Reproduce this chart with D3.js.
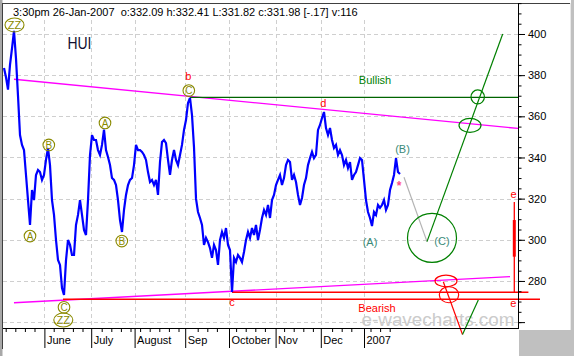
<!DOCTYPE html>
<html><head><meta charset="utf-8">
<script src="https://cdn.jsdelivr.net/npm/d3@7/dist/d3.min.js"></script>
<style>html,body{margin:0;padding:0;background:#fff;overflow:hidden}</style>
</head><body>
<svg id="c" width="574" height="356"></svg>
<script>
// ---------- data (HUI, daily bars, index 0 = mid-May 2006) ----------
const closes = [
383.5,379.0,373.0,385.0,393.0,401.5,388.0,370.0,350.9,346.1,
343.6,331.5,319.3,307.2,324.2,319.3,331.5,333.9,332.9,329.1,
331.5,338.8,344.6,336.3,319.3,312.1,299.9,290.2,287.8,276.5,
273.2,290.0,299.9,297.5,292.6,292.6,307.2,312.1,319.3,312.1,
304.8,302.3,319.3,341.2,350.9,348.5,348.5,343.6,341.2,346.1,
353.5,343.6,340.2,336.3,330.0,329.1,326.6,319.3,309.6,303.8,
314.5,321.8,326.6,329.1,330.0,336.3,346.1,343.6,343.6,342.7,
341.2,338.8,332.9,328.1,329.1,326.6,329.1,321.8,337.8,347.5,
348.5,347.0,338.8,331.5,338.8,343.6,338.8,336.3,341.2,346.1,
353.4,358.2,366.5,368.9,360.6,345.0,320.0,313.5,310.6,307.2,
297.5,300.9,298.9,296.0,291.2,297.5,295.0,287.8,299.9,303.8,
300.9,305.7,297.5,295.0,274.6,291.2,289.2,292.6,291.2,289.2,
294.1,299.9,303.8,300.9,305.7,302.3,307.2,299.9,304.8,310.6,
314.5,312.1,316.9,310.6,319.3,321.8,326.6,329.1,331.5,326.6,
330.0,336.3,338.8,337.8,329.1,331.5,328.1,321.8,316.9,320.3,
326.6,330.0,336.3,339.7,342.7,339.7,341.2,353.4,355.8,359.2,
362.1,354.3,350.9,354.3,348.5,344.6,346.1,341.2,343.6,341.2,
336.3,338.8,334.9,337.8,329.1,331.5,332.9,336.3,339.7,338.8,
329.1,319.3,313.5,310.6,306.7,313.5,312.1,316.9,315.5,316.9,
319.3,314.5,316.9,324.2,327.6,331.5,339.7,332.9,331.98
];
const monthLabels = ["June","July","August","Sep","October","Nov","Dec","2007"];
const monthBars = [20.2, 43.6, 65.3, 90.6, 112.5, 135.8, 158.4, 180];
const yTicks = [260,280,300,320,340,360,380,400];
const yLabelled = [280,300,320,340,360,380,400];
const headerText = "3:30pm 26-Jan-2007  o:332.09 h:332.41 L:331.82 c:331.98 [-.17] v:116";
const symbol = "HUI";

// trend lines and projections, as [bar, price] pairs
const upperTrend = [[5,378.0],[257,354.1]];
const lowerTrend = [[5,269.4],[253,282.1]];
const redLevels = [[29.5,268,271.1],[114,262.2,274.5]];      // from bar, to bar, price
const bullishLevel = [93,257.5,369.2];
const greyPath = [[200,330.4],[211.5,299.1]];
const greenPath = [[211.5,299.1],[249.35,400]];
const redDrop = [[219.65,279.6],[229.25,254.0]];
const greenBounce = [[229.25,254.0],[237.15,270.8]];
const eRange = [255.15, 318.4, 274.5, 309.6, 291.8];        // bar, top, bottom, thick top, thick bottom
const circledWaves = [["ZZ",5.25,404.4],["A",13,301.8],["B",22.4,346.1],["C",30,267.2],
                      ["ZZ",29.65,261.0],["A",50.5,356.8],["B",58.9,299.4],["C",92.4,372.5]];
const redLabels = [["b",92.15,379.7],["d",159.65,366.3],["c",114,269.8],["e",254.75,322.3],["e",254.65,269.3],["Bearish",186.5,266.8]];
const waveLabels = [["(A)",183,298.7],["(B)",199.25,344.1],["(C)",219,299.2]];
const greenLabels = [["Bullish",185.5,377.6]];
const bigCircle = [214,300.9];
const greenRings = [[236.85,369.4],[233,355.6]];
const redRings = [[221,280.0],[222.5,273.3]];
const lastMark = [197.5,327.5];

// ---------- drawing ----------
const FONT = "'Liberation Sans', Arial, sans-serif";
const L = 3, R = 518, T = 3, B = 328;
const svg = d3.select("#c").style("font-family", FONT);
const x = d3.scaleLinear().domain([-0.5, 257]).range([L, R]);
const y = d3.scaleLinear().domain([257.14, 415.06]).range([B, T]);

// frame
svg.append("rect").attr("width",574).attr("height",356).attr("fill","#fff");
svg.append("rect").attr("x",571).attr("y",0).attr("width",3).attr("height",330).attr("fill","#c0c0c0");
svg.append("rect").attr("x",519).attr("y",330).attr("width",55).attr("height",26).attr("fill","#c0c0c0");
svg.append("line").attr("x1",570.5).attr("x2",570.5).attr("y1",3).attr("y2",330).attr("stroke","#e8e8e8");
svg.append("rect").attr("x",0).attr("y",0).attr("width",2.5).attr("height",356).attr("fill","#a8a8a8");
svg.append("line").attr("x1",2.5).attr("x2",2.5).attr("y1",3).attr("y2",349).attr("stroke","#404040");
svg.append("line").attr("x1",2.5).attr("x2",570).attr("y1",3.5).attr("y2",3.5).attr("stroke","#404040");

// grid
const grid = svg.append("g").attr("stroke","#cfcfcf").attr("stroke-dasharray","4,3");
grid.selectAll("line.h").data(yTicks).join("line")
  .attr("x1",L).attr("x2",R).attr("y1",d=>Math.round(y(d))+0.5).attr("y2",d=>Math.round(y(d))+0.5);
grid.selectAll("line.v").data(monthBars).join("line")
  .attr("x1",d=>Math.round(x(d))+0.5).attr("x2",d=>Math.round(x(d))+0.5).attr("y1",20).attr("y2",B);

// header
svg.append("text").attr("x",13).attr("y",15.5).attr("font-size",11).attr("fill","#000").style("white-space","pre")
  .attr("xml:space","preserve").text(headerText);
svg.append("text").attr("x",67.5).attr("y",48.5).attr("font-size",16).attr("fill","#101030")
  .attr("textLength",24).attr("lengthAdjust","spacingAndGlyphs").text(symbol);

// watermark
svg.append("text").attr("x",361.5).attr("y",325.5).attr("font-size",18).attr("fill","#cbcbcb")
  .attr("textLength",153).attr("lengthAdjust","spacingAndGlyphs").text("e-wavecharts.com");

const seg = (pts, color, w) => svg.append("line")
  .attr("x1",x(pts[0][0])).attr("y1",y(pts[0][1])).attr("x2",x(pts[1][0])).attr("y2",y(pts[1][1]))
  .attr("stroke",color).attr("stroke-width",w||1);

// magenta trend lines
seg(upperTrend,"#ff00ff",1.3);
seg(lowerTrend,"#ff00ff",1.3);
// red support levels
redLevels.forEach(r => seg([[r[0],r[2]],[r[1],r[2]]],"#ff0000",1.3));
// bullish level
seg([[bullishLevel[0],bullishLevel[2]],[bullishLevel[1],bullishLevel[2]]],"#006400",1.3);

// price line
svg.append("path").datum(closes)
  .attr("d", d3.line().x((d,i)=>x(i)).y(d=>y(d)))
  .attr("fill","none").attr("stroke","#0000ff").attr("stroke-width",2.2).attr("stroke-linejoin","miter");

// projections
seg(greyPath,"#b4b4b4",1.2);
seg(greenPath,"#008000",1.2);
seg(redDrop,"#ff0000",1.2);
seg(greenBounce,"#008000",1.2);
seg([[eRange[0],eRange[1]],[eRange[0],eRange[2]]],"#ff0000",1.3);
seg([[eRange[0],eRange[3]],[eRange[0],eRange[4]]],"#ff0000",3);

// rings
const ringSizes = {big:[24.5,24.5], green:[[6.7,7],[11,7]], red:[[11,5.8],[9.7,8]]};
svg.append("ellipse").attr("cx",x(bigCircle[0])).attr("cy",y(bigCircle[1]))
  .attr("rx",ringSizes.big[0]).attr("ry",ringSizes.big[1]).attr("fill","none").attr("stroke","#008000").attr("stroke-width",1.2);
greenRings.forEach((g,k)=>svg.append("ellipse").attr("cx",x(g[0])).attr("cy",y(g[1]))
  .attr("rx",ringSizes.green[k][0]).attr("ry",ringSizes.green[k][1]).attr("fill","none").attr("stroke","#008000").attr("stroke-width",1.2));
redRings.forEach((g,k)=>svg.append("ellipse").attr("cx",x(g[0])).attr("cy",y(g[1]))
  .attr("rx",ringSizes.red[k][0]).attr("ry",ringSizes.red[k][1]).attr("fill","none").attr("stroke","#ff0000").attr("stroke-width",1.2));

// circled wave labels
circledWaves.forEach(c=>{
  const wide = c[0].length>1;
  const g = svg.append("g").attr("transform",`translate(${x(c[1])},${y(c[2])})`);
  g.append("ellipse").attr("rx",wide?9.5:5.8).attr("ry",wide?7:5.8).attr("fill","none")
    .attr("stroke","#8a8a00").attr("stroke-width",1.1);
  g.append("text").attr("text-anchor","middle").attr("dy","0.36em").attr("font-size",wide?11:10)
    .attr("fill","#8a8a00").text(c[0]);
});

const label = (arr, color, size) => arr.forEach(t=>svg.append("text")
  .attr("x",x(t[1])).attr("y",y(t[2])).attr("dy","0.36em").attr("text-anchor","middle")
  .attr("font-size",size).attr("fill",color).text(t[0]));
label(redLabels,"#ff0000",11);
label(waveLabels,"#3a8a78",11);
label(greenLabels,"#008000",11);
svg.append("text").attr("x",x(lastMark[0])).attr("y",y(lastMark[1])).attr("dy","0.55em").attr("text-anchor","middle")
  .attr("font-size",12).attr("font-weight","bold").attr("fill","#ff4a8a").text("*");

// right axis
const yAxisG = svg.append("g").attr("transform",`translate(${R},0)`);
yAxisG.call(d3.axisRight(y).tickValues(d3.range(260,416,5)).tickSize(3.5).tickFormat(""));
yAxisG.append("g").call(d3.axisRight(y).tickValues(yTicks).tickSize(7).tickPadding(3)
  .tickFormat(d => yLabelled.includes(d) ? d : ""));
yAxisG.selectAll(".domain").remove();
yAxisG.selectAll("line").attr("stroke","#000");
yAxisG.selectAll("text").attr("font-size",11).attr("font-family",FONT).attr("fill","#000");
svg.append("line").attr("x1",R+0.5).attr("x2",R+0.5).attr("y1",T).attr("y2",B+1).attr("stroke","#000");

// bottom axis
const minorBars = d3.range(0.85, 194, 4.8).filter(b => monthBars.every(m => Math.abs(m-b) > 2));
const xAxisG = svg.append("g").attr("transform",`translate(0,${B})`);
xAxisG.call(d3.axisBottom(x).tickValues(minorBars).tickSize(4).tickFormat(""));
xAxisG.append("g").call(d3.axisBottom(x).tickValues(monthBars).tickSize(20).tickFormat((d,i)=>monthLabels[i]));
xAxisG.selectAll(".domain").remove();
xAxisG.selectAll("line").attr("stroke","#000");
xAxisG.selectAll("text").attr("font-size",11).attr("font-family",FONT).attr("fill","#000")
  .attr("text-anchor","start").attr("x",2).attr("y",16).attr("dy",0);
svg.append("line").attr("x1",L).attr("x2",R+1).attr("y1",B+0.5).attr("y2",B+0.5).attr("stroke","#000");
</script>
</body></html>
